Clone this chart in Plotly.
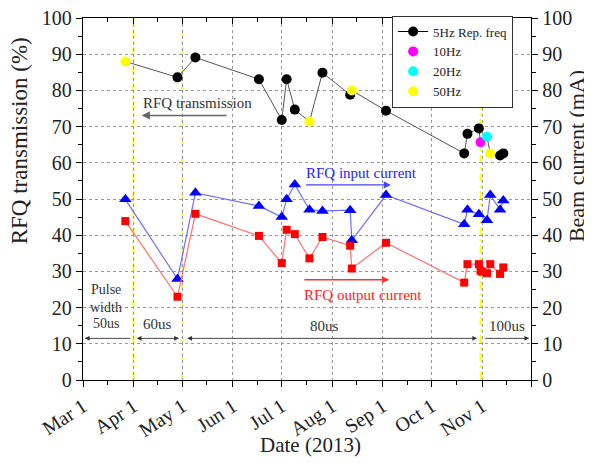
import plotly.graph_objects as go

# ---------------- data ----------------
trans_dates = ["2013-03-27", "2013-04-28", "2013-05-09", "2013-06-17", "2013-07-01",
               "2013-07-04", "2013-07-09", "2013-07-18", "2013-07-26", "2013-08-12",
               "2013-08-13", "2013-09-03", "2013-10-21", "2013-10-23", "2013-10-30",
               "2013-10-31", "2013-11-04", "2013-11-06", "2013-11-12", "2013-11-14"]
trans_vals = [88.0, 83.6, 89.1, 83.1, 71.8, 83.1, 74.7, 71.4, 84.9, 78.8,
              80.0, 74.4, 62.6, 68.0, 69.5, 65.7, 67.2, 62.6, 62.0, 62.6]
trans_freq = [50, 5, 5, 5, 5, 5, 5, 50, 5, 5, 50, 5, 5, 5, 5, 10, 20, 50, 5, 5]

in_dates = ["2013-03-27", "2013-04-28", "2013-05-09", "2013-06-17", "2013-07-01",
            "2013-07-04", "2013-07-09", "2013-07-18", "2013-07-26", "2013-08-12",
            "2013-08-13", "2013-09-03", "2013-10-21", "2013-10-23", "2013-10-30",
            "2013-11-04", "2013-11-06", "2013-11-12", "2013-11-14"]
in_vals = [49.9, 27.9, 51.7, 48.1, 45.0, 49.9, 54.0, 47.0, 46.7, 46.9,
           38.6, 51.1, 43.0, 47.0, 45.8, 44.1, 51.1, 47.0, 49.6]

out_dates = ["2013-03-27", "2013-04-28", "2013-05-09", "2013-06-17", "2013-07-01",
             "2013-07-04", "2013-07-09", "2013-07-18", "2013-07-26", "2013-08-12",
             "2013-08-13", "2013-09-03", "2013-10-21", "2013-10-23", "2013-10-30",
             "2013-10-31", "2013-11-01", "2013-11-04", "2013-11-06", "2013-11-12",
             "2013-11-14"]
out_vals = [43.9, 23.0, 45.9, 39.8, 32.3, 41.5, 40.3, 33.6, 39.5, 37.1,
            30.8, 37.9, 26.9, 32.0, 32.0, 30.2, 29.9, 29.5, 32.0, 29.3, 31.1]

month_ticks = ["2013-03-01", "2013-04-01", "2013-05-01", "2013-06-01", "2013-07-01",
               "2013-08-01", "2013-09-01", "2013-10-01", "2013-11-01", "2013-12-01"]
month_labels = ["Mar 1", "Apr 1", "May 1", "Jun 1", "Jul 1", "Aug 1", "Sep 1",
                "Oct 1", "Nov 1", ""]
mid_ticks = ["2013-03-16", "2013-04-16", "2013-05-16", "2013-06-16", "2013-07-16",
             "2013-08-16", "2013-09-16", "2013-10-16", "2013-11-16"]
y_ticks = [0, 10, 20, 30, 40, 50, 60, 70, 80, 90, 100]

pulse_change_dates = ["2013-04-01", "2013-05-01", "2013-10-31"]

freq_colors = {5: "black", 10: "#ff00ff", 20: "#00ffff", 50: "#ffff00"}

FONT = "Liberation Serif, Times New Roman, serif"

fig = go.Figure()

# transmission line through all points
fig.add_trace(go.Scatter(x=trans_dates, y=trans_vals, mode="lines",
                         line=dict(color="#555555", width=1), showlegend=False,
                         hoverinfo="skip"))
for f, name in [(5, None), (10, "10Hz"), (20, "20Hz"), (50, "50Hz")]:
    xs = [d for d, fr in zip(trans_dates, trans_freq) if fr == f]
    ys = [v for v, fr in zip(trans_vals, trans_freq) if fr == f]
    if f == 5:
        fig.add_trace(go.Scatter(x=xs, y=ys, mode="markers",
                                 marker=dict(color="black", size=10),
                                 showlegend=False))
        fig.add_trace(go.Scatter(x=[None], y=[None], mode="lines+markers",
                                 name="5Hz Rep. freq",
                                 line=dict(color="black", width=1),
                                 marker=dict(color="black", size=10)))
    else:
        fig.add_trace(go.Scatter(x=xs, y=ys, mode="markers", name=name,
                                 marker=dict(color=freq_colors[f], size=10)))

# beam currents (right axis)
fig.add_trace(go.Scatter(x=in_dates, y=in_vals, mode="lines+markers", yaxis="y2",
                         line=dict(color="#6f6fff", width=1.2),
                         marker=dict(color="#0000ff", symbol="triangle-up", size=11),
                         showlegend=False))
fig.add_trace(go.Scatter(x=out_dates, y=out_vals, mode="lines+markers", yaxis="y2",
                         line=dict(color="#ff7070", width=1.2),
                         marker=dict(color="#ff0000", symbol="square", size=8),
                         showlegend=False))
fig.add_trace(go.Scatter(x=[None], y=[None], xaxis="x2", showlegend=False))

shapes = []
for d in pulse_change_dates:
    shapes.append(dict(type="line", xref="x", yref="paper", x0=d, x1=d, y0=0, y1=1,
                       line=dict(color="#ffff00", width=1.8, dash="dashdot"),
                       layer="between"))

annotations = []
def arrow(x_head, x_tail, y, color, both=False, width=1.2):
    a = dict(x=x_head, y=y, ax=x_tail, ay=y, xref="x", yref="y", axref="x",
             ayref="y", text="", showarrow=True, arrowhead=2, arrowsize=1.1,
             arrowwidth=width, arrowcolor=color)
    if both:
        a.update(arrowside="end+start", startarrowhead=2, startarrowsize=1.1)
    annotations.append(a)

def label(x, y, text, color, size=15):
    annotations.append(dict(x=x, y=y, xref="x", yref="y", text=text, showarrow=False,
                            font=dict(family=FONT, size=size, color=color)))

def title(x, y, text, angle, size):
    annotations.append(dict(x=x, y=y, xref="paper", yref="paper", text=text,
                            showarrow=False, textangle=angle, xanchor="center",
                            yanchor="middle",
                            font=dict(family=FONT, size=size, color="#222")))

arrow("2013-04-06", "2013-05-29", 73.1, "#666666", width=1.5)
label("2013-05-10", 76.6, "RFQ transmission", "#333333")
arrow("2013-09-06", "2013-07-15", 53.9, "#4444ff", width=1.3)
label("2013-08-19", 57.3, "RFQ input current", "#2222ff")
arrow("2013-09-05", "2013-07-14", 27.7, "#ff3333", width=1.3)
label("2013-08-20", 23.6, "RFQ output current", "#ff2222")

# pulse width arrows
arrow("2013-03-02", "2013-03-31", 11.5, "#333333", width=0.9)
arrow("2013-04-29", "2013-04-02", 11.5, "#333333", both=True, width=0.9)
arrow("2013-10-29", "2013-05-03", 11.5, "#333333", both=True, width=0.9)
arrow("2013-11-30", "2013-11-02", 11.5, "#333333", width=0.9)
label("2013-03-15", 24.9, "Pulse", "#333333", size=14)
label("2013-03-15", 20.1, "width", "#333333", size=14)
label("2013-03-15", 15.6, "50us", "#333333", size=14)
label("2013-04-16", 15.6, "60us", "#333333", size=15)
label("2013-07-27", 15.0, "80us", "#333333", size=15)
label("2013-11-16", 15.0, "100us", "#333333", size=15)

title(-0.143, 0.662, "RFQ transmission (%)", -90, 23)
title(1.1, 0.618, "Beam current (mA)", -90, 22)
title(0.507, -0.18, "Date (2013)", 0, 21)

axis_common = dict(showline=True, linecolor="black", linewidth=1.3, automargin=False,
                   ticklabeloverflow="allow",
                   tickcolor="black", tickfont=dict(family=FONT, size=20, color="#222"))

# the page body adds an 8 px offset, so the figure is sized to the remaining window
fig.update_layout(
    width=584, height=460,
    margin=dict(l=75, r=61, t=9, b=88),
    plot_bgcolor="white", paper_bgcolor="white",
    font=dict(family=FONT, color="#222"),
    shapes=shapes, annotations=annotations,
    xaxis=dict(type="date", range=["2013-03-01", "2013-12-01"],
               tickmode="array", tickvals=month_ticks, ticktext=month_labels,
               tickangle=-33, ticks="outside", ticklen=6,
               showgrid=True, gridcolor="#999999", griddash="dot", gridwidth=1,
               minor=dict(tickvals=mid_ticks, ticks="outside", ticklen=4,
                          tickcolor="black", showgrid=False),
               zeroline=False, **axis_common),
    xaxis2=dict(type="date", range=["2013-03-01", "2013-12-01"], overlaying="x",
                side="top", tickmode="array", tickvals=month_ticks,
                showticklabels=False, ticks="inside", ticklen=6, showgrid=False,
                minor=dict(tickvals=mid_ticks, ticks="inside", ticklen=4,
                           tickcolor="black"),
                zeroline=False, **axis_common),
    yaxis=dict(range=[0, 100], tickmode="array", tickvals=y_ticks,
               ticks="outside", ticklen=6,
               showgrid=True, gridcolor="#999999", griddash="dot", gridwidth=1,
               minor=dict(dtick=5, ticks="outside", ticklen=4, tickcolor="black",
                          showgrid=False),
               zeroline=False, **axis_common),
    yaxis2=dict(range=[0, 100], overlaying="y", side="right", tickmode="array",
                tickvals=y_ticks, ticks="outside", ticklen=6, showgrid=False,
                minor=dict(dtick=5, ticks="outside", ticklen=4, tickcolor="black"),
                zeroline=False, **axis_common),
    legend=dict(x=0.69, y=1.004, xanchor="left", yanchor="top",
                bgcolor="white", bordercolor="#333333", borderwidth=1,
                font=dict(family=FONT, size=13, color="#222"),
                tracegroupgap=0, itemwidth=30),
)

fig.write_html("out.html")
